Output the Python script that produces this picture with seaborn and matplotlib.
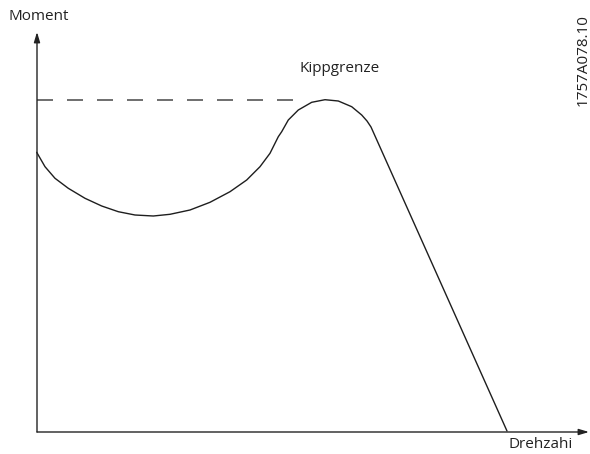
import matplotlib

matplotlib.use("Agg")
import matplotlib.pyplot as plt
import numpy as np
import pandas as pd
import seaborn as sns

# curve, pixel positions (x right, y down)
curve_px_x = [36.7, 45, 55, 68.3, 85, 101.7, 118.3, 135, 153.3, 170, 190, 210, 230, 246.7,
              260, 270, 278.3, 281.7, 288.3, 298.3, 311.7, 325, 338.3, 351.7, 361.7, 367,
              371, 507]
curve_px_y = [152.3, 166.7, 178.3, 188.3, 198.3, 206, 211.7, 215, 216, 214.3, 210, 202.3,
              191.7, 180, 166.7, 153.3, 136.7, 131.7, 120, 110, 102.3, 99.7, 101, 106.7,
              115, 121, 127, 431]
limit_px_y = 100
limit_px_x = [37, 302]

origin_x, origin_y = 37, 432
frame = pd.DataFrame({
    "drehzahl": np.array(curve_px_x) - origin_x,
    "moment": origin_y - np.array(curve_px_y),
})
limit = pd.DataFrame({
    "drehzahl": np.array(limit_px_x) - origin_x,
    "moment": [origin_y - limit_px_y] * 2,
})

sns.set_theme(style="white")
plt.rcParams["font.family"] = ["Open Sans", "DejaVu Sans"]

fig = plt.figure(figsize=(5.9, 4.54), dpi=100)
ax = fig.add_axes([0, 0, 1, 1])
ax.set_xlim(-origin_x, 590 - origin_x)
ax.set_ylim(origin_y - 454, origin_y)
ax.axis("off")

sns.lineplot(data=frame, x="drehzahl", y="moment", sort=False, color="#1e1e1e",
             linewidth=1.0, ax=ax)
ax.lines[-1].set_solid_joinstyle("round")
sns.lineplot(data=limit, x="drehzahl", y="moment", sort=False, color="#555555",
             linewidth=1.2, ax=ax)
ax.lines[-1].set_dashes((9.6, 8.4))

arrow = dict(arrowstyle="-|>,head_length=0.5,head_width=0.15", color="#222222",
             linewidth=1.0, shrinkA=0, shrinkB=0)
ax.annotate("", xy=(0, origin_y - 32), xytext=(0, 0), arrowprops=arrow)
ax.annotate("", xy=(589 - origin_x, 0), xytext=(0, 0), arrowprops=arrow)

text_kw = dict(fontsize=11, color="#222222", va="center")
ax.text(9 - origin_x, origin_y - 17, "Moment", ha="left", **text_kw)
ax.text(340 - origin_x, origin_y - 68, "Kippgrenze", ha="center", **text_kw)
ax.text(508 - origin_x, origin_y - 445, "Drehzahi", ha="left", **text_kw)
ax.text(583 - origin_x, origin_y - 60, "1757A078.10", rotation=90, ha="center", **text_kw)

fig.savefig("out.png", dpi=100)
